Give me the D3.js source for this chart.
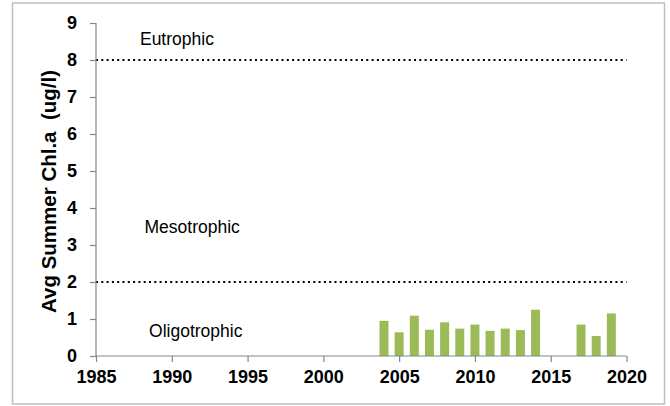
<!DOCTYPE html>
<html>
<head>
<meta charset="utf-8">
<script src="https://cdn.jsdelivr.net/npm/d3@7"></script>
<style>
  html, body { margin: 0; padding: 0; background: #fff; }
  svg text { font-family: 'Liberation Sans', Arial, sans-serif; }
</style>
</head>
<body>
<div id="chart"></div>
<script>
// Chart data
const years = [2004, 2005, 2006, 2007, 2008, 2009, 2010, 2011, 2012, 2013, 2014, 2017, 2018, 2019];
const chlA = [0.95, 0.64, 1.09, 0.71, 0.91, 0.74, 0.85, 0.68, 0.74, 0.70, 1.25, 0.85, 0.54, 1.15];
const xTicks = [1985, 1990, 1995, 2000, 2005, 2010, 2015, 2020];
const yTicks = [0, 1, 2, 3, 4, 5, 6, 7, 8, 9];
const thresholds = [2, 8];
const zoneNames = ['Oligotrophic', 'Mesotrophic', 'Eutrophic'];

const W = 670;
const H = 406;
const margin = { top: 23, right: 43.5, bottom: 50, left: 96 };

const svg = d3.select('#chart').append('svg')
  .attr('width', W)
  .attr('height', H);

// Outer frame
svg.append('rect')
  .attr('x', 12.5)
  .attr('y', 3)
  .attr('width', 652)
  .attr('height', 401)
  .attr('fill', 'none')
  .attr('stroke', '#bfbfbf')
  .attr('stroke-width', 1.5);

const x = d3.scaleLinear()
  .domain([1985, 2020])
  .range([margin.left, W - margin.right]);

const y = d3.scaleLinear()
  .domain([0, 9])
  .range([H - margin.bottom, margin.top]);

const barW = 9;

// Bars
svg.selectAll('rect.bar')
  .data(years)
  .enter().append('rect')
  .attr('class', 'bar')
  .attr('x', (d) => x(d) - barW / 2)
  .attr('y', (d, i) => y(chlA[i]))
  .attr('width', barW)
  .attr('height', (d, i) => y(0) - y(chlA[i]))
  .attr('fill', '#9bbb59');

// Threshold lines
svg.selectAll('line.thr')
  .data(thresholds)
  .enter().append('line')
  .attr('class', 'thr')
  .attr('x1', x(1985))
  .attr('x2', x(2020))
  .attr('y1', (d) => y(d))
  .attr('y2', (d) => y(d))
  .attr('stroke', '#000')
  .attr('stroke-width', 2)
  .attr('stroke-dasharray', '2,3.3');

// Y axis
const yAxis = svg.append('g')
  .attr('transform', `translate(${x(1985)},0)`)
  .call(d3.axisLeft(y).tickValues(yTicks).tickSize(6).tickPadding(13).tickFormat(d3.format('d')));

// X axis
const xAxis = svg.append('g')
  .attr('transform', `translate(0,${y(0)})`)
  .call(d3.axisBottom(x).tickValues(xTicks).tickSize(6).tickPadding(8).tickFormat(d3.format('d')));

[yAxis, xAxis].forEach((ax) => {
  ax.select('.domain').attr('stroke', '#868686').attr('stroke-width', 1.2);
  ax.selectAll('.tick line').attr('stroke', '#868686').attr('stroke-width', 1.2);
  ax.selectAll('.tick text')
    .attr('fill', '#000')
    .style('font-size', '18px')
    .style('font-weight', 'bold')
    .style('font-family', "'Liberation Sans', Arial, sans-serif");
});
xAxis.select('.domain').attr('d', `M${x(1985)},0H${x(2020)}`);
yAxis.select('.domain').attr('d', `M0,${y(0)}V${y(9)}`);

// Zone labels
const zonePos = [
  { yr: 1988.5, v: 0.51 },
  { yr: 1988.2, v: 3.32 },
  { yr: 1987.9, v: 8.4 }
];
svg.selectAll('text.zone')
  .data(zoneNames)
  .enter().append('text')
  .attr('class', 'zone')
  .attr('x', (d, i) => x(zonePos[i].yr))
  .attr('y', (d, i) => y(zonePos[i].v))
  .style('font-size', '17.5px')
  .attr('fill', '#000')
  .text((d) => d);

// Y axis title
svg.append('text')
  .attr('transform', `translate(56,${191.5}) rotate(-90)`)
  .attr('text-anchor', 'middle')
  .style('font-size', '20.5px')
  .style('font-weight', 'bold')
  .style('white-space', 'pre')
  .attr('fill', '#000')
  .text('Avg Summer Chl.a  (ug/l)');
</script>
</body>
</html>
